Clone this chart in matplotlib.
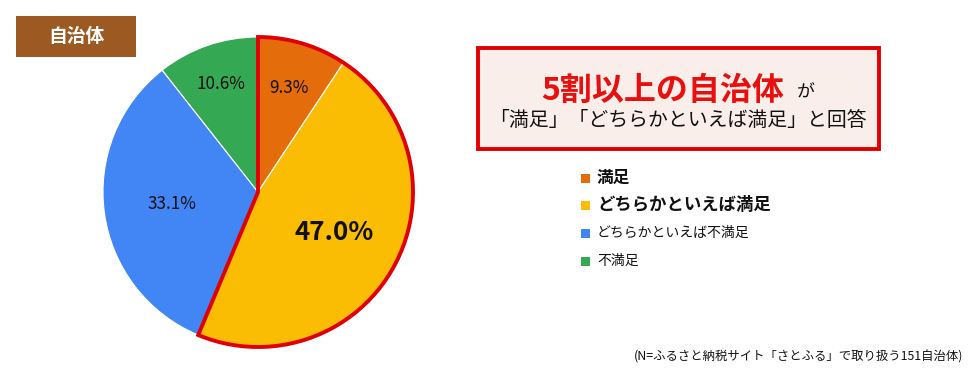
import numpy as np
import matplotlib
matplotlib.use("Agg")
import matplotlib.pyplot as plt
from matplotlib.patches import Wedge, Rectangle

plt.rcParams['font.family'] = ['Noto Sans CJK JP', 'DejaVu Sans']

# ── Data ──────────────────────────────────────────────────────────────────
labels = ["満足", "どちらかといえば満足", "どちらかといえば不満足", "不満足"]
values = [9.3, 47.0, 33.1, 10.6]
colors = ["#E46C0A", "#FBBC04", "#4285F4", "#34A853"]
highlight = [True, True, False, False]
label_dist = [0.70, 0.56, 0.56, 0.74]

W, H = 980, 380
fig = plt.figure(figsize=(W / 100, H / 100), dpi=100)

# ── Pie ───────────────────────────────────────────────────────────────────
cx, cy, r = 258, 188, 155
ax = fig.add_axes([(cx - r) / W, (cy - r) / H, 2 * r / W, 2 * r / H])
wedges, _ = ax.pie(values, colors=colors, startangle=90, counterclock=False,
                   wedgeprops=dict(edgecolor="white", linewidth=0.8))
ax.set_xlim(-1, 1)
ax.set_ylim(-1, 1)
ax.set_aspect("equal")

for w, v, d in zip(wedges, values, label_dist):
    mid = np.deg2rad((w.theta1 + w.theta2) / 2)
    big = v == max(values)
    ax.text(d * np.cos(mid), d * np.sin(mid), f"{v:.1f}%",
            ha="center", va="center",
            fontsize=18.7 if big else 12.3, fontweight="bold" if big else "normal",
            color="#111111")

# red outline around the "satisfied" group
total = sum(values)
share = sum(v for v, hl in zip(values, highlight) if hl)
ax.add_patch(Wedge((0, 0), 1.0, 90 - 360 * share / total, 90,
                   fill=False, edgecolor="#E00000", linewidth=2.8,
                   zorder=5, clip_on=False))

# ── Badge ─────────────────────────────────────────────────────────────────
fig.patches.append(Rectangle((16 / W, 1 - 57 / H), 120 / W, 41 / H,
                             transform=fig.transFigure, facecolor="#9C5A22",
                             edgecolor="none"))
fig.text(76 / W, 1 - 37 / H, "自治体", ha="center", va="center",
         color="white", fontsize=13.5, fontweight="bold")

# ── Callout box ───────────────────────────────────────────────────────────
fig.patches.append(Rectangle((478 / W, 1 - 149 / H), 401 / W, 101 / H,
                             transform=fig.transFigure, facecolor="#FAEEEA",
                             edgecolor="#E00000", linewidth=2.8))
fig.text(663 / W, 1 - 91 / H, "5割以上の自治体", ha="center", va="center",
         color="#E8100F", fontsize=23, fontweight="bold")
fig.text(806 / W, 1 - 93 / H, "が", ha="center", va="center",
         color="#111111", fontsize=13)
fig.text(678 / W, 1 - 121 / H, "「満足」「どちらかといえば満足」と回答",
         ha="center", va="center", color="#111111", fontsize=14.3)

# ── Legend ────────────────────────────────────────────────────────────────
leg_y = [178, 205, 233, 261]
leg_size = [12, 12.5, 10, 10]
for lab, col, y, fs, hl in zip(labels, colors, leg_y, leg_size, highlight):
    fig.patches.append(Rectangle((581 / W, 1 - (y + 4.5) / H), 9 / W, 9 / H,
                                 transform=fig.transFigure, facecolor=col,
                                 edgecolor="none"))
    fig.text(597 / W, 1 - y / H, lab, ha="left", va="center", fontsize=fs,
             fontweight="bold" if hl else "normal", color="#111111")

# ── Footnote ──────────────────────────────────────────────────────────────
fig.text(963 / W, 1 - 357 / H, "(N=ふるさと納税サイト「さとふる」で取り扱う151自治体)",
         ha="right", va="center", fontsize=8.9, color="#111111")

fig.savefig("out.png", dpi=100)
